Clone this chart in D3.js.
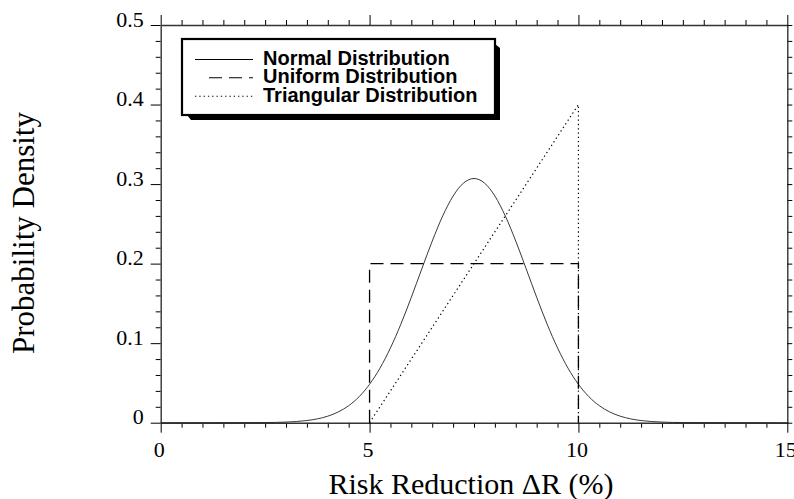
<!DOCTYPE html>
<html>
<head>
<meta charset="utf-8">
<script src="https://cdn.jsdelivr.net/npm/d3@7"></script>
<style>
  html, body { margin: 0; padding: 0; background: #fff; }
  svg { display: block; }
</style>
</head>
<body>
<svg id="chart" width="794" height="499"></svg>
<script>
// ---- data ----
const xMajorTicks = [0, 5, 10, 15];
const xTickLabels = ["0", "5", "10", "15"];
const yMajorTicks = [0, 0.1, 0.2, 0.3, 0.4, 0.5];
const yTickLabels = ["0", "0.1", "0.2", "0.3", "0.4", "0.5"];

const normalX = [0, 2.5, 3, 3.5, 3.75, 4, 4.25, 4.5, 4.75, 5, 5.25, 5.5, 5.75, 6, 6.25, 6.5, 6.75, 7, 7.25, 7.5,
                 7.75, 8, 8.25, 8.5, 8.75, 9, 9.25, 9.5, 9.75, 10, 10.25, 10.5, 10.75, 11, 11.25, 11.5, 12, 12.5, 15];
const normalY = [0, 0.0002, 0.0008, 0.0027, 0.0048, 0.0082, 0.0135, 0.0214, 0.0327, 0.0483, 0.0686, 0.094, 0.124, 0.1577, 0.1933, 0.2283, 0.2598, 0.285, 0.3013, 0.307,
                 0.3013, 0.285, 0.2598, 0.2283, 0.1933, 0.1577, 0.124, 0.094, 0.0686, 0.0483, 0.0327, 0.0214, 0.0135, 0.0082, 0.0048, 0.0027, 0.0008, 0.0002, 0];

const uniformX = [5, 5, 10, 10];
const uniformY = [0, 0.2, 0.2, 0];

const triangularX = [5, 10, 10];
const triangularY = [0, 0.4, 0];

const legendLabels = ["Normal Distribution", "Uniform Distribution", "Triangular Distribution"];

// ---- layout ----
const svg = d3.select("#chart");
const x = d3.scaleLinear().domain([0, 15]).range([160.7, 787.3]);
const y = d3.scaleLinear().domain([0, 0.5]).range([422.7, 25]);

const xMinor = d3.range(0, 15.001, 0.5).filter(v => Math.abs(v % 5) > 1e-6);
const yMinor = d3.range(0, 0.5001, 0.02).filter(v => Math.abs((v * 10) % 1) > 1e-6 && Math.abs((v * 10) % 1 - 1) > 1e-6);

function styleAxis(g) {
  g.select(".domain").attr("stroke", "#333").attr("stroke-width", 1.4);
  g.selectAll(".tick line").attr("stroke", "#000").attr("stroke-width", 1);
}

// minor ticks
svg.append("g").attr("transform", `translate(0,${y(0)})`)
  .call(d3.axisBottom(x).tickValues(xMinor).tickSize(5).tickFormat("").tickSizeOuter(0))
  .call(g => g.select(".domain").remove()).call(styleAxis);
svg.append("g").attr("transform", `translate(0,${y(0.5)})`)
  .call(d3.axisTop(x).tickValues(xMinor).tickSize(5).tickFormat("").tickSizeOuter(0))
  .call(g => g.select(".domain").remove()).call(styleAxis);
svg.append("g").attr("transform", `translate(${x(0)},0)`)
  .call(d3.axisLeft(y).tickValues(yMinor).tickSize(5).tickFormat("").tickSizeOuter(0))
  .call(g => g.select(".domain").remove()).call(styleAxis);
svg.append("g").attr("transform", `translate(${x(15)},0)`)
  .call(d3.axisRight(y).tickValues(yMinor).tickSize(5).tickFormat("").tickSizeOuter(0))
  .call(g => g.select(".domain").remove()).call(styleAxis);

// major ticks + domain lines
const bottomAxis = svg.append("g").attr("transform", `translate(0,${y(0)})`)
  .call(d3.axisBottom(x).tickValues(xMajorTicks).tickSize(10).tickSizeOuter(0)
    .tickFormat((d, i) => xTickLabels[i]).tickPadding(8))
  .call(styleAxis);
bottomAxis.selectAll(".tick text")
  .attr("font-family", "'Liberation Serif', 'Times New Roman', serif")
  .attr("font-size", 22).attr("fill", "#000").attr("dx", -2).attr("dy", "0.72em");

svg.append("g").attr("transform", `translate(0,${y(0.5)})`)
  .call(d3.axisTop(x).tickValues(xMajorTicks).tickSize(10).tickFormat("").tickSizeOuter(0))
  .call(styleAxis);

const leftAxis = svg.append("g").attr("transform", `translate(${x(0)},0)`)
  .call(d3.axisLeft(y).tickValues(yMajorTicks).tickSize(10).tickSizeOuter(0)
    .tickFormat((d, i) => yTickLabels[i]).tickPadding(7))
  .call(styleAxis);
leftAxis.selectAll(".tick text")
  .attr("font-family", "'Liberation Serif', 'Times New Roman', serif")
  .attr("font-size", 22).attr("fill", "#000").attr("dy", "0.05em");

svg.append("g").attr("transform", `translate(${x(15)},0)`)
  .call(d3.axisRight(y).tickValues(yMajorTicks).tickSize(5).tickFormat("").tickSizeOuter(0))
  .call(styleAxis);

// axis titles
svg.append("text")
  .attr("x", 471).attr("y", 494)
  .attr("text-anchor", "middle")
  .attr("font-family", "'Liberation Serif', 'Times New Roman', serif")
  .attr("font-size", 30)
  .text("Risk Reduction ΔR (%)");

svg.append("text")
  .attr("transform", "translate(34,233) rotate(-90)")
  .attr("text-anchor", "middle")
  .attr("font-family", "'Liberation Serif', 'Times New Roman', serif")
  .attr("font-size", 31)
  .text("Probability Density");

// ---- series ----
const line = d3.line().x(d => x(d[0])).y(d => y(d[1]));

svg.append("path")
  .datum(normalX.map((v, i) => [v, normalY[i]]))
  .attr("d", line.curve(d3.curveMonotoneX))
  .attr("fill", "none").attr("stroke", "#222").attr("stroke-width", 0.9);

const lineLin = d3.line().x(d => x(d[0])).y(d => y(d[1]));

svg.append("path")
  .datum(uniformX.map((v, i) => [v, uniformY[i]]))
  .attr("d", lineLin)
  .attr("fill", "none").attr("stroke", "#000").attr("stroke-width", 1.3)
  .attr("stroke-dasharray", "13,7");

svg.append("path")
  .datum(triangularX.map((v, i) => [v, triangularY[i]]))
  .attr("d", lineLin)
  .attr("fill", "none").attr("stroke", "#000").attr("stroke-width", 1.2)
  .attr("stroke-dasharray", "1.3,3");

// ---- legend ----
const lg = svg.append("g");
const bx = 182, by = 39, bw = 313, bh = 76, sh = 5;
lg.append("path")
  .attr("d", `M${bx + bw},${by + sh} L${bx + bw + sh},${by + sh + 4} L${bx + bw + sh},${by + bh + sh} L${bx + sh + 4},${by + bh + sh} L${bx + sh},${by + bh} L${bx + bw},${by + bh} Z`)
  .attr("fill", "#000");
lg.append("rect")
  .attr("x", bx).attr("y", by).attr("width", bw).attr("height", bh)
  .attr("fill", "#fff").attr("stroke", "#000").attr("stroke-width", 2.2);

const legDash = ["none", "13,7", "1.3,3"];
const legX1 = [195, 209, 195];
const legendBase = [65, 83.3, 101.7];
legendLabels.forEach((lab, i) => {
  lg.append("line")
    .attr("x1", legX1[i]).attr("x2", 253)
    .attr("y1", legendBase[i] - 5.5).attr("y2", legendBase[i] - 5.5)
    .attr("stroke", "#000").attr("stroke-width", 1.1)
    .attr("stroke-dasharray", legDash[i]);
  lg.append("text")
    .attr("x", 263).attr("y", legendBase[i])
    .attr("font-family", "'Liberation Sans', Arial, Helvetica, sans-serif")
    .attr("font-weight", "bold")
    .attr("font-size", 20)
    .text(lab);
});
</script>
</body>
</html>
